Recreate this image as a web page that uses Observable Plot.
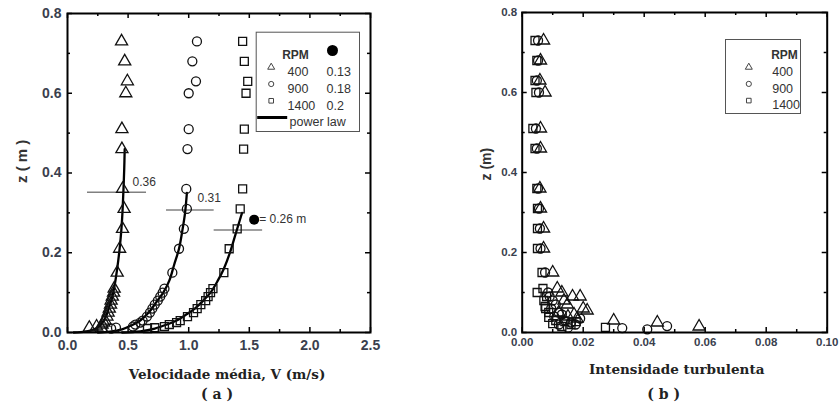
<!DOCTYPE html>
<html><head><meta charset="utf-8">
<script src="https://cdn.jsdelivr.net/npm/d3@7"></script>
<script src="https://cdn.jsdelivr.net/npm/@observablehq/plot@0.6"></script>
<style>
body{margin:0;background:#fff}
#wrap{display:flex;width:839px;height:412px;overflow:hidden}
svg{overflow:visible}
</style>
</head><body><div id="wrap"></div>
<script>
// ---------- Panel (a): mean velocity profiles ----------
const zLevels = [0.73,0.68,0.63,0.60,0.51,0.46,0.36,0.31,0.26,0.21,0.15,0.11,0.10,0.09,0.08,0.07,0.06,0.05,0.04,0.03,0.025,0.02,0.015,0.012,0.01];
const v400  = [0.446,0.472,0.494,0.481,0.449,0.449,0.454,0.467,0.454,0.43,0.41,0.385,0.38,0.37,0.36,0.355,0.345,0.335,0.325,0.31,0.30,0.285,0.24,0.18,0.28];
const v900  = [1.068,1.03,1.06,1.0,1.0,0.99,0.98,0.985,0.96,0.92,0.865,0.80,0.785,0.765,0.745,0.72,0.70,0.68,0.655,0.62,0.60,0.56,0.54,0.40,0.36];
const v1400 = [1.445,1.459,1.487,1.473,1.459,1.453,1.445,1.425,1.40,1.334,1.29,1.20,1.18,1.16,1.14,1.10,1.07,1.04,0.99,0.93,0.90,0.84,0.80,0.72,0.66];

// power-law fitted curves
const law400V  = [0.05,0.15,0.22,0.27,0.31,0.34,0.37,0.39,0.41,0.43,0.445,0.455,0.462,0.468,0.472];
const law400Z  = [0,0.002,0.008,0.018,0.035,0.06,0.09,0.12,0.16,0.21,0.26,0.31,0.36,0.41,0.46];
const law900V  = [0.25,0.35,0.45,0.53,0.60,0.67,0.73,0.79,0.84,0.88,0.92,0.95,0.97,0.985];
const law900Z  = [0,0.002,0.008,0.018,0.03,0.05,0.075,0.10,0.13,0.17,0.21,0.26,0.30,0.35];
const law1400V = [0.45,0.60,0.72,0.82,0.90,0.98,1.05,1.12,1.18,1.24,1.29,1.34,1.38,1.41,1.44];
const law1400Z = [0,0.003,0.01,0.02,0.03,0.045,0.06,0.08,0.10,0.13,0.16,0.20,0.24,0.27,0.30];

// boundary-layer markers
const blZ     = [0.352,0.307,0.257];
const blV1    = [0.165,0.817,1.21];
const blV2    = [0.652,1.21,1.61];
const blLabel = ["0.36","0.31","= 0.26 m"];
const blLabV  = [0.537,1.073,1.582];
const blLabZ  = [0.378,0.337,0.283];
const dotV = [1.54], dotZ = [0.283];

const legendRPM = ["400","900","1400"];
const legendVal = ["0.13","0.18","0.2"];
const legendSym = ["triangle","circle","square"];

const xTicksA = [0,0.5,1.0,1.5,2.0,2.5];
const xMinorA = [0.25,0.75,1.25,1.75,2.25];
const yTicks  = [0,0.2,0.4,0.6,0.8];
const yMinor  = [0.1,0.3,0.5,0.7];

// ---------- Panel (b): turbulence intensity ----------
const i400  = [0.0070,0.0060,0.0058,0.0075,0.0060,0.0060,0.0058,0.0060,0.0070,0.0070,0.0100,0.0115,0.013,0.0148,0.0137,0.0165,0.019,0.020,0.0213,0.017,0.015,0.030,0.0443,0.058,0.012,0.018];
const z400  = [0.73,0.68,0.63,0.60,0.51,0.46,0.36,0.31,0.26,0.21,0.15,0.11,0.10,0.07,0.08,0.09,0.09,0.06,0.055,0.045,0.04,0.03,0.025,0.015,0.05,0.035];
const i900  = [0.0052,0.0052,0.0048,0.0055,0.0045,0.0048,0.0052,0.0055,0.0058,0.0060,0.0075,0.0085,0.009,0.010,0.011,0.0095,0.012,0.013,0.0105,0.014,0.016,0.012,0.0175,0.019,0.0328,0.041,0.0475,0.015];
const z900  = [0.73,0.68,0.63,0.60,0.51,0.46,0.36,0.31,0.26,0.21,0.15,0.10,0.09,0.08,0.07,0.06,0.05,0.045,0.04,0.03,0.025,0.02,0.02,0.035,0.011,0.008,0.016,0.012];
const i1400 = [0.0042,0.0048,0.0042,0.0045,0.0035,0.0042,0.0048,0.0050,0.0050,0.0050,0.0065,0.0049,0.0068,0.0071,0.008,0.0077,0.0087,0.0087,0.011,0.010,0.014,0.0177,0.0075,0.0273,0.013,0.016];
const z1400 = [0.73,0.68,0.63,0.60,0.51,0.46,0.36,0.31,0.26,0.21,0.15,0.10,0.11,0.08,0.09,0.06,0.05,0.038,0.03,0.022,0.027,0.027,0.065,0.013,0.015,0.02];

const xTicksB = [0,0.02,0.04,0.06,0.08,0.10];
const xMinorB = [0.01,0.03,0.05,0.07,0.09];

// ---------- helpers ----------
const zip = (xs, ys) => xs.map((x, i) => ({x, y: ys[i]}));
function frameTicks(xMaj, xMin, yMaj, yMin, fw, fh) {
  const m = [];
  for (const [arr, len] of [[xMaj, 5], [xMin, 3]]) {
    m.push(Plot.tickX(arr, {x: d => d, insetTop: fh - len, strokeWidth: 1.5}));
    m.push(Plot.tickX(arr, {x: d => d, insetBottom: fh - len, strokeWidth: 1.5}));
  }
  for (const [arr, len] of [[yMaj, 5], [yMin, 3]]) {
    m.push(Plot.tickY(arr, {y: d => d, insetRight: fw - len, strokeWidth: 1.5}));
    m.push(Plot.tickY(arr, {y: d => d, insetLeft: fw - len, strokeWidth: 1.5}));
  }
  return m;
}
const tickColor = "#3a3f4e";
const serif = "DejaVu Serif, serif";
const symStyle = {r: 4.5, stroke: "#111", strokeWidth: 1.3, fill: "none"};

// ---------- Plot (a) ----------
const A = {w: 420, h: 412, mL: 67, mR: 50, mT: 13, mB: 80};
const fwA = A.w - A.mL - A.mR, fhA = A.h - A.mT - A.mB;
const plotA = Plot.plot({
  width: A.w, height: A.h,
  marginLeft: A.mL, marginRight: A.mR, marginTop: A.mT, marginBottom: A.mB,
  x: {domain: [0, 2.5]},
  y: {domain: [0, 0.8]},
  style: {fontFamily: "Liberation Sans, Arial, sans-serif", fontSize: "12px", background: "white"},
  marks: [
    Plot.axisX(xTicksA, {tickSize: 0, tickPadding: 8, tickFormat: d3.format(".1f"), fontSize: 14, fontWeight: "bold", color: tickColor, label: null}),
    Plot.axisY(yTicks, {tickSize: 0, tickPadding: 6, tickFormat: d3.format(".1f"), fontSize: 14, fontWeight: "bold", color: tickColor, label: null}),
    ...frameTicks(xTicksA, xMinorA, yTicks, yMinor, fwA, fhA),
    Plot.ruleY(blZ.map((z, i) => ({z, x1: blV1[i], x2: blV2[i]})), {y: "z", x1: "x1", x2: "x2", stroke: "#808080", strokeWidth: 1.5}),
    Plot.line(zip(law400V, law400Z), {x: "x", y: "y", curve: "catmull-rom", strokeWidth: 2.3, stroke: "#000"}),
    Plot.line(zip(law900V, law900Z), {x: "x", y: "y", curve: "catmull-rom", strokeWidth: 2.3, stroke: "#000"}),
    Plot.line(zip(law1400V, law1400Z), {x: "x", y: "y", curve: "catmull-rom", strokeWidth: 2.3, stroke: "#000"}),
    Plot.dot(zip(v400, zLevels), {x: "x", y: "y", symbol: "triangle", ...symStyle}),
    Plot.dot(zip(v900, zLevels), {x: "x", y: "y", symbol: "circle", ...symStyle}),
    Plot.dot(zip(v1400, zLevels), {x: "x", y: "y", symbol: "square", ...symStyle}),
    Plot.dot(zip(dotV, dotZ), {x: "x", y: "y", r: 5, fill: "#000"}),
    Plot.text(blLabel.map((t, i) => ({t, x: blLabV[i], y: blLabZ[i]})), {x: "x", y: "y", text: "t", textAnchor: "start", fontSize: 12, fill: "#333"}),
    Plot.frame({stroke: "#000", strokeWidth: 2}),
    // legend
    Plot.frame({stroke: "#555", strokeWidth: 1, fill: "white", insetLeft: 188.7, insetRight: 11, insetTop: 18.7, insetBottom: 201}),
    Plot.text(["RPM"], {frameAnchor: "top-left", dx: 228, dy: 37, textAnchor: "middle", fontWeight: "bold", fontSize: 12, fill: "#333"}),
    Plot.dot([0], {frameAnchor: "top-left", dx: 265, dy: 37, r: 5.5, fill: "#000"}),
    ...legendRPM.map((t, i) => Plot.dot([t], {frameAnchor: "top-left", dx: 203.7, dy: 53.7 + 16.8 * i, symbol: legendSym[i], r: 2.6, stroke: "#444", strokeWidth: 1, fill: "none"})),
    ...legendRPM.map((t, i) => Plot.text([t], {frameAnchor: "top-left", dx: 220, dy: 53.7 + 16.8 * i, textAnchor: "start", fontSize: 12.5, fill: "#333"})),
    ...legendVal.map((t, i) => Plot.text([t], {frameAnchor: "top-left", dx: 259, dy: 53.7 + 16.8 * i, textAnchor: "start", fontSize: 12.5, fill: "#333"})),
    Plot.frame({fill: "#000", stroke: "none", insetLeft: 189.7, insetRight: 83.3, insetTop: 102.5, insetBottom: 213.5}),
    Plot.text(["power law"], {frameAnchor: "top-left", dx: 222, dy: 104, textAnchor: "start", fontSize: 12.5, fill: "#333"}),
    // titles
    Plot.text(["z ( m )"], {frameAnchor: "left", dx: -45, dy: 10, rotate: -90, fontWeight: "bold", fontSize: 15, fill: "#333"}),
    Plot.text(["Velocidade média, V (m/s)"], {frameAnchor: "bottom", dx: 8, dy: 46, fontFamily: serif, fontWeight: "bold", fontSize: 13.5, fill: "#222"}),
    Plot.text(["( a )"], {frameAnchor: "bottom", dx: -2, dy: 66, fontFamily: serif, fontWeight: "bold", fontSize: 14, fill: "#222"})
  ]
});

// ---------- Plot (b) ----------
const B = {w: 419, h: 412, mL: 101.7, mR: 12.3, mT: 12, mB: 80};
const fwB = B.w - B.mL - B.mR, fhB = B.h - B.mT - B.mB;
const plotB = Plot.plot({
  width: B.w, height: B.h,
  marginLeft: B.mL, marginRight: B.mR, marginTop: B.mT, marginBottom: B.mB,
  x: {domain: [0, 0.1]},
  y: {domain: [0, 0.8]},
  style: {fontFamily: "Liberation Sans, Arial, sans-serif", fontSize: "12px", background: "white", overflow: "visible"},
  marks: [
    Plot.axisX(xTicksB, {tickSize: 0, tickPadding: 5, tickFormat: d3.format(".2f"), fontSize: 11.5, fontWeight: "bold", color: tickColor, label: null}),
    Plot.axisY(yTicks, {tickSize: 0, tickPadding: 5, tickFormat: d3.format(".1f"), fontSize: 11.5, fontWeight: "bold", color: tickColor, label: null}),
    ...frameTicks(xTicksB, xMinorB, yTicks, yMinor, fwB, fhB),
    Plot.dot(zip(i1400, z1400), {x: "x", y: "y", symbol: "square", ...symStyle}),
    Plot.dot(zip(i900, z900), {x: "x", y: "y", symbol: "circle", ...symStyle}),
    Plot.dot(zip(i400, z400), {x: "x", y: "y", symbol: "triangle", ...symStyle}),
    Plot.frame({stroke: "#000", strokeWidth: 2}),
    // legend
    Plot.frame({stroke: "#555", strokeWidth: 1, fill: "white", insetLeft: 203.3, insetRight: 26.7, insetTop: 27, insetBottom: 219}),
    Plot.text(["RPM"], {frameAnchor: "top-left", dx: 262.3, dy: 38, textAnchor: "middle", fontWeight: "bold", fontSize: 12, fill: "#333"}),
    ...legendRPM.map((t, i) => Plot.dot([t], {frameAnchor: "top-left", dx: 226.6, dy: 54.7 + 16.7 * i, symbol: legendSym[i], r: 2.6, stroke: "#444", strokeWidth: 1, fill: "none"})),
    ...legendRPM.map((t, i) => Plot.text([t], {frameAnchor: "top-left", dx: 250, dy: 54.7 + 16.7 * i, textAnchor: "start", fontSize: 12.5, fill: "#333"})),
    // titles
    Plot.text(["z (m)"], {frameAnchor: "left", dx: -36, dy: 8, rotate: -90, fontWeight: "bold", fontSize: 14, fill: "#333"}),
    Plot.text(["Intensidade turbulenta"], {frameAnchor: "bottom", dx: 2, dy: 41, fontFamily: serif, fontWeight: "bold", fontSize: 13.5, fill: "#222"}),
    Plot.text(["( b )"], {frameAnchor: "bottom", dx: -11, dy: 66, fontFamily: serif, fontWeight: "bold", fontSize: 14, fill: "#222"})
  ]
});

const wrap = document.getElementById("wrap");
wrap.appendChild(plotA);
wrap.appendChild(plotB);
</script></body></html>
